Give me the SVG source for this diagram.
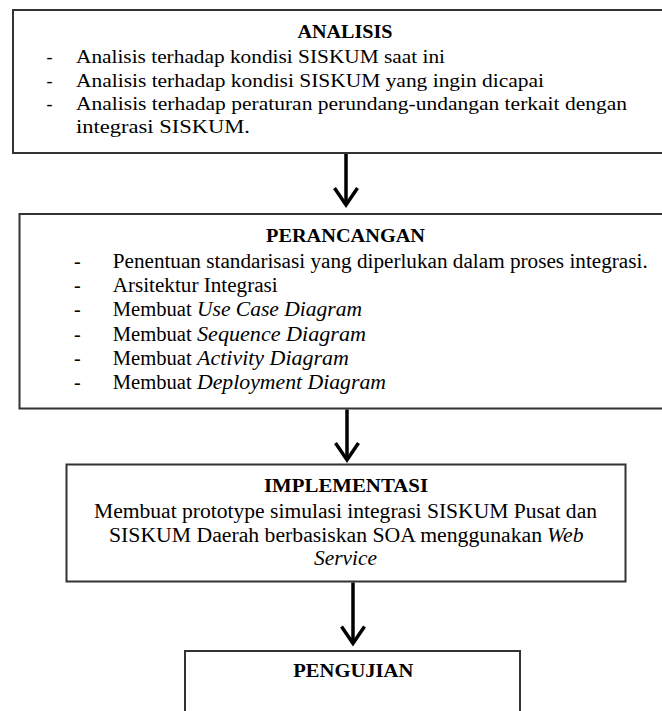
<svg xmlns="http://www.w3.org/2000/svg" width="662" height="711" viewBox="0 0 662 711">
<defs>
<style>
.box{fill:#fff;stroke:#333;stroke-width:2}
text{font-family:"Liberation Serif","DejaVu Serif","Times New Roman",serif;fill:#000}
.h{font-weight:bold;font-size:18.5px}
.b1{font-size:18px}
.b2{font-size:20px}
.i{font-style:italic}
.conn{stroke:#000;stroke-width:3.5;fill:none}
</style>
<marker id="vhead" markerUnits="userSpaceOnUse" markerWidth="40" markerHeight="40" refX="0" refY="0" orient="auto" overflow="visible">
<path d="M-17,-11.5 L0,0 L-17,11.5" fill="none" stroke="#000" stroke-width="3.5" stroke-linejoin="miter"/>
</marker>
</defs>
<rect width="662" height="711" fill="#fff"/>

<g id="analisis">
<rect class="box" x="13" y="10" width="670" height="143"/>
<text class="h" x="297.5" y="37.5" textLength="95" lengthAdjust="spacingAndGlyphs">ANALISIS</text>
<text class="b1" x="46.5" y="63">-</text>
<text class="b1" x="76" y="63" textLength="369" lengthAdjust="spacingAndGlyphs">Analisis terhadap kondisi SISKUM  saat ini</text>
<text class="b1" x="46.5" y="86.5">-</text>
<text class="b1" x="76" y="86.5" textLength="468" lengthAdjust="spacingAndGlyphs">Analisis terhadap kondisi SISKUM  yang ingin  dicapai</text>
<text class="b1" x="46.5" y="110">-</text>
<text class="b1" x="76" y="110" textLength="551" lengthAdjust="spacingAndGlyphs">Analisis terhadap peraturan perundang-undangan terkait dengan</text>
<text class="b1" x="76" y="133" textLength="174" lengthAdjust="spacingAndGlyphs">integrasi SISKUM.</text>
</g>

<g id="perancangan">
<rect class="box" x="19.5" y="214" width="670" height="194.5"/>
<text class="h" x="266" y="241.7" textLength="159" lengthAdjust="spacingAndGlyphs">PERANCANGAN</text>
<text class="b2" x="74" y="268">-</text>
<text class="b2" x="112.7" y="268" textLength="535" lengthAdjust="spacingAndGlyphs">Penentuan standarisasi yang diperlukan dalam proses integrasi.</text>
<text class="b2" x="74" y="292">-</text>
<text class="b2" x="112.7" y="292" textLength="165" lengthAdjust="spacingAndGlyphs">Arsitektur Integrasi</text>
<text class="b2" x="74" y="316">-</text>
<text class="b2" x="112.7" y="316" textLength="79" lengthAdjust="spacingAndGlyphs">Membuat</text>
<text class="b2 i" x="197" y="316" textLength="165" lengthAdjust="spacingAndGlyphs">Use Case Diagram</text>
<text class="b2" x="74" y="340.5">-</text>
<text class="b2" x="112.7" y="340.5" textLength="79" lengthAdjust="spacingAndGlyphs">Membuat</text>
<text class="b2 i" x="197" y="340.5" textLength="169" lengthAdjust="spacingAndGlyphs">Sequence Diagram</text>
<text class="b2" x="74" y="365">-</text>
<text class="b2" x="112.7" y="365" textLength="79" lengthAdjust="spacingAndGlyphs">Membuat</text>
<text class="b2 i" x="197" y="365" textLength="152" lengthAdjust="spacingAndGlyphs">Activity Diagram</text>
<text class="b2" x="74" y="389">-</text>
<text class="b2" x="112.7" y="389" textLength="79" lengthAdjust="spacingAndGlyphs">Membuat</text>
<text class="b2 i" x="197" y="389" textLength="189" lengthAdjust="spacingAndGlyphs">Deployment Diagram</text>
</g>

<g id="implementasi">
<rect class="box" x="66.5" y="464.5" width="559" height="117"/>
<text class="h" x="264" y="491.7" textLength="164" lengthAdjust="spacingAndGlyphs">IMPLEMENTASI</text>
<text class="b2" x="94" y="518.3" textLength="503" lengthAdjust="spacingAndGlyphs">Membuat prototype simulasi integrasi SISKUM Pusat dan</text>
<text class="b2" x="109" y="541.7" textLength="433" lengthAdjust="spacingAndGlyphs">SISKUM  Daerah berbasiskan SOA menggunakan</text>
<text class="b2 i" x="547" y="541.7" textLength="36.5" lengthAdjust="spacingAndGlyphs">Web</text>
<text class="b2 i" x="314" y="565" textLength="63" lengthAdjust="spacingAndGlyphs">Service</text>
</g>

<g id="pengujian">
<rect class="box" x="185" y="651" width="335" height="80"/>
<text class="h" x="293.3" y="677.3" textLength="120" lengthAdjust="spacingAndGlyphs">PENGUJIAN</text>
</g>

<g id="connectors">
<line class="conn" x1="346" y1="154" x2="346" y2="205" marker-end="url(#vhead)"/>
<line class="conn" x1="347" y1="409.5" x2="347" y2="460" marker-end="url(#vhead)"/>
<line class="conn" x1="353" y1="582.5" x2="353" y2="643.5" marker-end="url(#vhead)"/>
</g>
</svg>
